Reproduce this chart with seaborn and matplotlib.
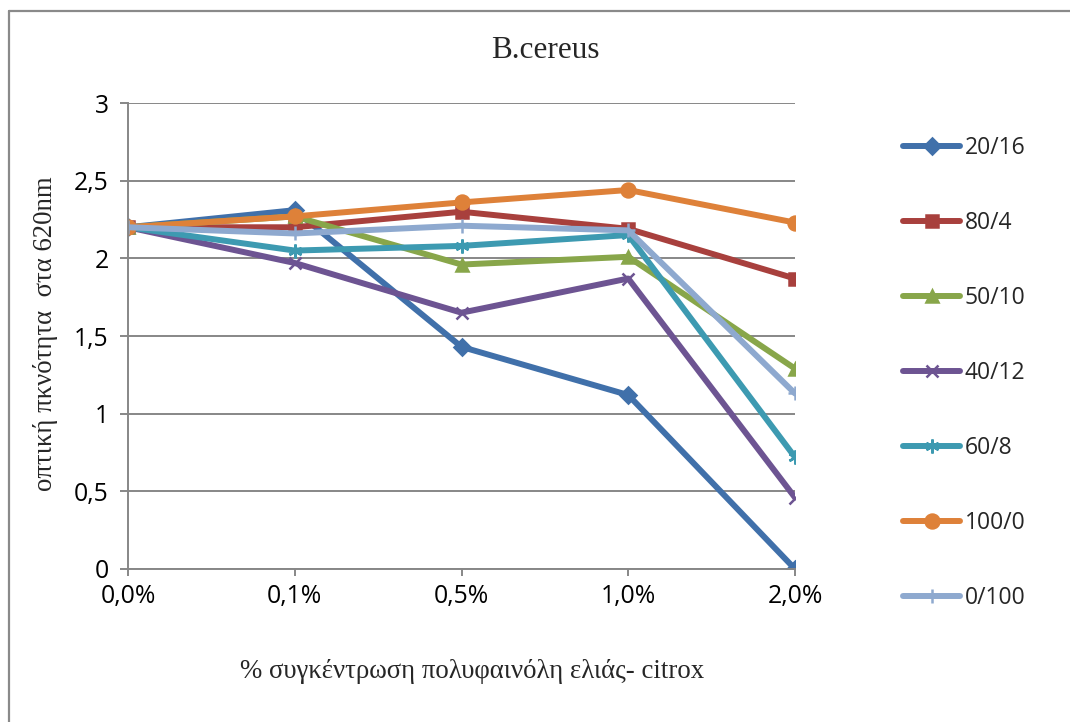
import matplotlib
matplotlib.use("Agg")
import matplotlib.pyplot as plt
import matplotlib.lines as mlines
import seaborn as sns
import pandas as pd

categories = ["0,0%", "0,1%", "0,5%", "1,0%", "2,0%"]
s_20_16 = [2.20, 2.31, 1.43, 1.12, 0.00]
s_80_4 = [2.20, 2.20, 2.30, 2.19, 1.87]
s_50_10 = [2.20, 2.27, 1.96, 2.01, 1.29]
s_40_12 = [2.20, 1.97, 1.65, 1.87, 0.46]
s_60_8 = [2.20, 2.05, 2.08, 2.15, 0.72]
s_100_0 = [2.20, 2.27, 2.36, 2.44, 2.23]
s_0_100 = [2.20, 2.16, 2.21, 2.18, 1.13]

series_names = ["20/16", "80/4", "50/10", "40/12", "60/8", "100/0", "0/100"]
series_values = [s_20_16, s_80_4, s_50_10, s_40_12, s_60_8, s_100_0, s_0_100]
colors = ["#4070AA", "#A8403D", "#88A64A", "#6D5492", "#3D9AB1", "#DE8139", "#8EA9CF"]
markers = ["D", "s", "^", "x", (6, 2, 0), "o", "+"]
msizes = [8.5, 9, 9, 9, 10, 10, 10]

title = "B.cereus"
xlabel = "% συγκέντρωση πολυφαινόλη ελιάς- citrox"
ylabel = "οπτική πκνότητα  στα 620nm"

rows = []
for name, vals in zip(series_names, series_values):
    for c, v in zip(categories, vals):
        rows.append({"conc": c, "od": v, "series": name})
df = pd.DataFrame(rows)

sns.set_theme(style="white")
plt.rcParams["font.family"] = ["Open Sans", "DejaVu Sans"]

fig = plt.figure(figsize=(10.70, 7.22), dpi=100)
ax = fig.add_axes([128 / 1070, 1 - 569 / 722, (795 - 128) / 1070, (569 - 103) / 722])

grid_col = "#878787"
for name, col, mk, ms in zip(series_names, colors, markers, msizes):
    sub = df[df["series"] == name]
    sns.lineplot(data=sub, x="conc", y="od", ax=ax, color=col, linewidth=4.3,
                 marker=mk, markersize=ms, markeredgewidth=1.8,
                 markeredgecolor=col, markerfacecolor=col, label=name,
                 sort=False, solid_capstyle="round")

ax.set_xlim(0, len(categories) - 1)
ax.set_ylim(0, 3)
ax.set_yticks([0, 0.5, 1, 1.5, 2, 2.5, 3])
ax.set_yticklabels(["0", "0,5", "1", "1,5", "2", "2,5", "3"])
ax.yaxis.grid(True, color=grid_col, linewidth=1.4)
ax.xaxis.grid(False)
ax.set_axisbelow(True)
for side in ["top", "right"]:
    ax.spines[side].set_visible(False)
for side in ["left", "bottom"]:
    ax.spines[side].set_color(grid_col)
    ax.spines[side].set_linewidth(1.4)
ax.tick_params(axis="both", which="major", direction="out", color=grid_col,
               width=1.4, labelsize=17.8, labelcolor="black")
ax.tick_params(axis="y", length=6, pad=8)
ax.tick_params(axis="x", length=5, pad=6)
ax.tick_params(left=True, bottom=True)

serif = ["Liberation Serif", "DejaVu Serif"]
ax.set_title(title, fontsize=22.5, family=serif, x=0.625, y=1.112, va="center", pad=0)
ax.set_xlabel(xlabel, fontsize=19.3, family=serif, va="center")
ax.xaxis.set_label_coords(0.516, -0.221)
ax.set_ylabel(ylabel, fontsize=19.3, family=serif, va="center")
ax.yaxis.set_label_coords(-0.123, 0.506)

leg = ax.legend(loc="upper left", bbox_to_anchor=(903 / 1070, 1 - 136 / 722),
                bbox_transform=fig.transFigure, frameon=False, fontsize=16.5,
                labelspacing=2.225, handlelength=2.5, handletextpad=0.2,
                borderpad=0, borderaxespad=0)

bx, by = 8.5 / 1070, 1 - 10.5 / 722
fig.add_artist(mlines.Line2D([bx, bx], [-0.05, by], transform=fig.transFigure,
                             color="#8A8A8A", linewidth=1.6))
fig.add_artist(mlines.Line2D([bx, 1.05], [by, by], transform=fig.transFigure,
                             color="#8A8A8A", linewidth=1.6))

fig.savefig("out.png", dpi=100, facecolor="white")
